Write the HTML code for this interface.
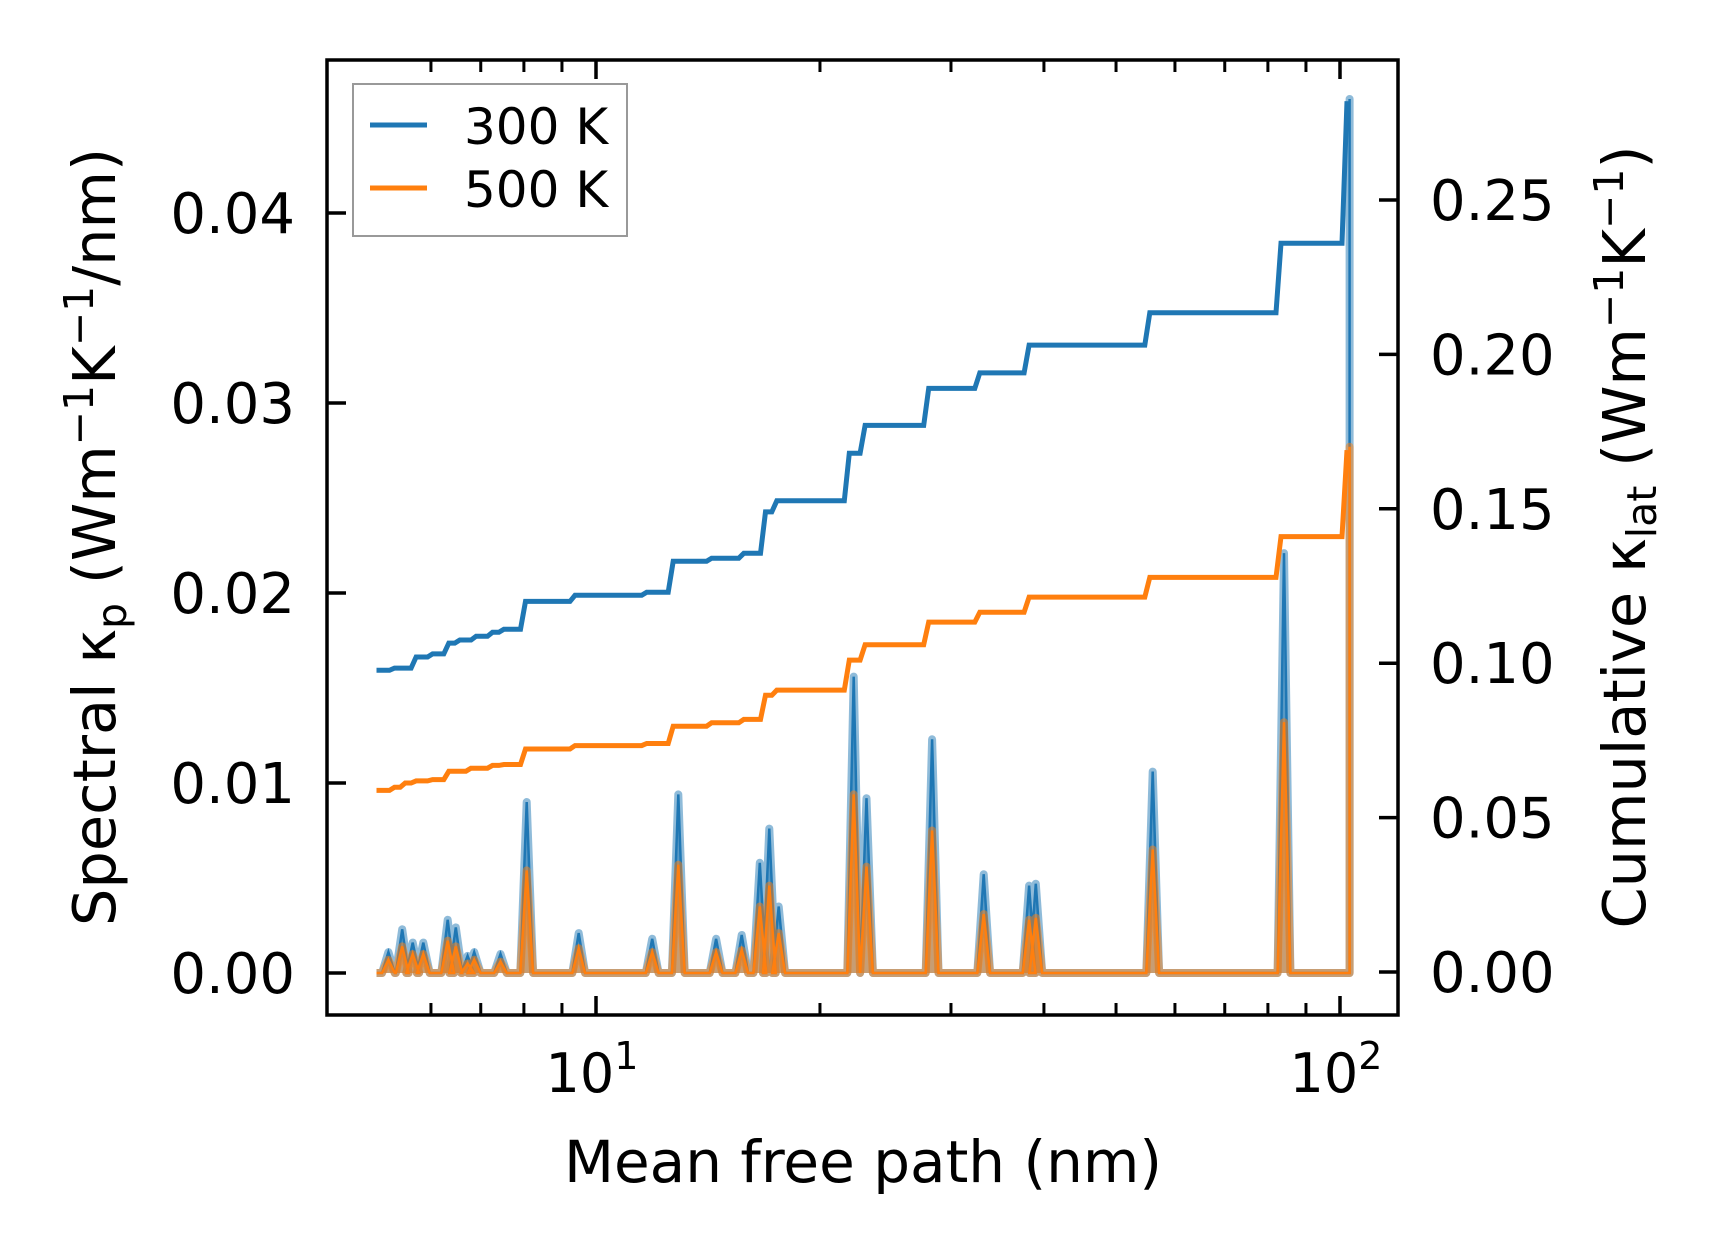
<!DOCTYPE html>
<html><head><meta charset="utf-8"><style>
body{margin:0;background:#fff}
svg text{font-family:"DejaVu Sans","Liberation Sans",sans-serif;fill:#000}
</style></head><body>
<svg width="1716" height="1254" viewBox="0 0 1716 1254">
<g id="plot"></g>
</svg>
<script>
const cumX300=[5.07,5.36,5.73,6.03,6.34,6.56,6.90,7.26,7.52,8.04,9.37,11.7,12.7,14.3,15.8,16.9,17.5,21.9,23.0,28.0,32.8,38.2,55.5,83.3,102.2];
const cumV300=[0.0977,0.0984,0.102,0.103,0.1065,0.1075,0.1087,0.110,0.111,0.120,0.122,0.123,0.133,0.134,0.1356,0.149,0.1526,0.168,0.177,0.189,0.194,0.203,0.2135,0.236,0.282];
const cumX500=[5.07,5.36,5.54,5.73,6.03,6.34,6.79,7.26,7.52,8.04,9.37,11.7,12.7,14.3,15.8,16.9,17.5,21.9,23.0,28.0,32.8,38.2,55.5,83.3,102.2];
const cumV500=[0.0588,0.0598,0.0612,0.0619,0.0623,0.065,0.066,0.0669,0.0672,0.0722,0.0733,0.074,0.0796,0.0807,0.0818,0.0896,0.0913,0.101,0.106,0.1133,0.1165,0.1214,0.1278,0.141,0.169];
const peakX=[5.26,5.49,5.67,5.86,6.32,6.48,6.72,6.86,7.44,8.07,9.48,11.9,12.9,14.5,15.7,16.6,17.1,17.6,22.2,23.1,28.3,33.2,38.2,39.0,56.0,84.1,103];
const peak300=[0.0011,0.0023,0.0016,0.0016,0.0028,0.0024,0.0009,0.0011,0.001,0.009,0.0021,0.0018,0.0094,0.0018,0.002,0.0058,0.0076,0.0035,0.0156,0.0092,0.0123,0.0052,0.0046,0.0047,0.0106,0.0221,0.046];
const peak500=[0.0007,0.0014,0.001,0.001,0.0017,0.0014,0.0005,0.0007,0.0006,0.0054,0.0013,0.0011,0.0057,0.0011,0.0012,0.0035,0.0046,0.0021,0.0094,0.0056,0.0075,0.0031,0.0028,0.0029,0.0065,0.0132,0.0277];
const yLeftTicks=[0,0.01,0.02,0.03,0.04];
const yRightTicks=[0,0.05,0.10,0.15,0.20,0.25];

const L=327,R=1398,T=60,B=1015;
const sx=v=>596+(Math.log10(v)-1)*744;
const syL=v=>973-v/0.01*190;
const syR=v=>972-v/0.05*154.4;
const g=document.getElementById('plot');
const NS='http://www.w3.org/2000/svg';
function mk(tag,at,parent){const e=document.createElementNS(NS,tag);for(const k in at)e.setAttribute(k,at[k]);(parent||g).appendChild(e);return e;}

function spectral(vals,color,name){
  let pts=[[sx(5.07),syL(0)]];
  peakX.forEach((x,i)=>{
    const w=(i===peakX.length-1)?1.0:1.02;
    pts.push([sx(x/w),syL(0)]);pts.push([sx(x),syL(vals[i])]);pts.push([sx(x*w),syL(0)]);
  });
  pts.push([sx(103),syL(0)]);
  const d='M'+pts.map(p=>p[0].toFixed(1)+','+p[1].toFixed(1)).join('L');
  const f=mk('path',{d:d+'Z',fill:color,'fill-opacity':0.5,stroke:'none'});
  
  
  const l=mk('path',{d:d,fill:'none',stroke:color,'stroke-opacity':0.5,'stroke-width':8,'stroke-linejoin':'round'});
  
  
  const l2=mk('path',{d:d,fill:'none',stroke:color,'stroke-width':2.5});
  
  
}
spectral(peak300,'#1f77b4','spectral-300k');
spectral(peak500,'#ff7f0e','spectral-500k');

function cum(xs,vs,color,name){
  let pts=[];
  xs.forEach((x,i)=>{pts.push([sx(x),syR(vs[i])]);if(i<xs.length-1)pts.push([sx(xs[i+1])-5,syR(vs[i])]);});
  const d='M'+pts.map(p=>p[0].toFixed(1)+','+p[1].toFixed(1)).join('L');
  const l=mk('path',{d:d,fill:'none',stroke:color,'stroke-width':5});
  
  
}
cum(cumX300,cumV300,'#1f77b4','cumulative-300k-line');
cum(cumX500,cumV500,'#ff7f0e','cumulative-500k-line');

const minors=[6,7,8,9,20,30,40,50,60,70,80,90];
minors.forEach(v=>{const x=sx(v);
  const t1=mk('line',{x1:x,x2:x,y1:B,y2:B-12,stroke:'#000','stroke-width':3});
  
  const t2=mk('line',{x1:x,x2:x,y1:T,y2:T+12,stroke:'#000','stroke-width':3});
  });
[[10,'1'],[100,'2']].forEach(([v,e])=>{const x=sx(v);
  const t1=mk('line',{x1:x,x2:x,y1:B,y2:B-19,stroke:'#000','stroke-width':3.5});
  
  const t2=mk('line',{x1:x,x2:x,y1:T,y2:T+19,stroke:'#000','stroke-width':3.5});
  
  const t=mk('text',{x:x-4,y:1092,'font-size':54,'text-anchor':'middle'});
  
  t.innerHTML='10<tspan dy="-23" font-size="38">'+e+'</tspan>';});
yLeftTicks.forEach(v=>{const y=syL(v);
  const k=mk('line',{x1:L,x2:L+19,y1:y,y2:y,stroke:'#000','stroke-width':3.5});
  
  const t=mk('text',{x:295,y:y+20,'font-size':56,'text-anchor':'end'});
  
  t.textContent=v.toFixed(2);});
yRightTicks.forEach(v=>{const y=syR(v);
  const k=mk('line',{x1:R,x2:R-19,y1:y,y2:y,stroke:'#000','stroke-width':3.5});
  
  const t=mk('text',{x:1430,y:y+20,'font-size':56});
  
  t.textContent=v.toFixed(2);});

const frame=mk('rect',{x:L,y:T,width:R-L,height:B-T,fill:'none',stroke:'#000','stroke-width':3.5});


const lg=mk('g',{});

mk('rect',{x:353,y:84,width:274,height:152,fill:'#fff','fill-opacity':0.8,stroke:'#999','stroke-width':2},lg);
[['300 K','#1f77b4',125,'legend-entry-300k'],['500 K','#ff7f0e',188,'legend-entry-500k']].forEach(([s,c,y,n])=>{
  const e=mk('g',{},lg);
  
  mk('line',{x1:370,x2:427,y1:y,y2:y,stroke:c,'stroke-width':5},e);
  const t=mk('text',{x:464,y:y+19,'font-size':50},e);t.textContent=s;});

const xl=mk('text',{x:863,y:1182,'font-size':58,'text-anchor':'middle'});

xl.textContent='Mean free path (nm)';
const yl=mk('text',{x:0,y:0,'font-size':59,'text-anchor':'middle',transform:'translate(115,537) rotate(-90)'});

yl.innerHTML='Spectral κ<tspan dy="11" font-size="41">p</tspan><tspan dy="-11"> (Wm</tspan><tspan dy="-22" font-size="41">−1</tspan><tspan dy="22">K</tspan><tspan dy="-22" font-size="41">−1</tspan><tspan dy="22">/nm)</tspan>';
const yr=mk('text',{x:0,y:0,'font-size':59,'text-anchor':'middle',transform:'translate(1645,537) rotate(-90)'});

yr.innerHTML='Cumulative κ<tspan dy="11" font-size="41">lat</tspan><tspan dy="-11"> (Wm</tspan><tspan dy="-22" font-size="41">−1</tspan><tspan dy="22">K</tspan><tspan dy="-22" font-size="41">−1</tspan><tspan dy="22">)</tspan>';
</script>
</body></html>
